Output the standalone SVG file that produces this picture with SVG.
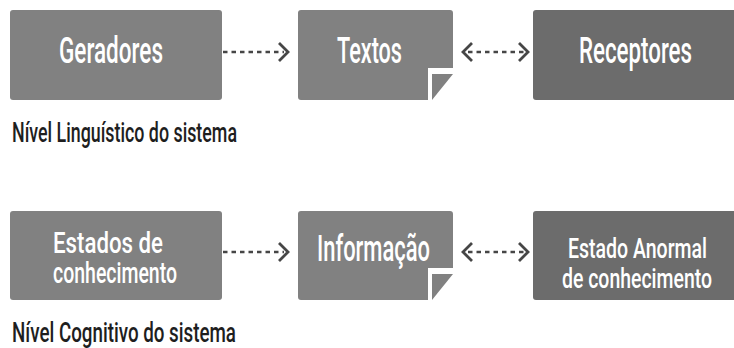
<svg xmlns="http://www.w3.org/2000/svg" width="734" height="348" viewBox="0 0 734 348">
<style>
.box{fill:#818181}
.box2{fill:#6c6c6c}
.fold{fill:#818181}
.lbl{font-family:Roboto,"Liberation Sans",sans-serif;font-weight:500;fill:#ffffff}
.cap{font-family:Roboto,"Liberation Sans",sans-serif;font-weight:500;fill:#1e1e1e;font-size:27px}
.dash{stroke:#464646;stroke-width:2.6;stroke-dasharray:4.5 4;fill:none}
.chev{stroke:#464646;stroke-width:2.8;fill:none;stroke-linejoin:miter;stroke-linecap:butt}
</style>
<rect width="734" height="348" fill="#ffffff"/>

<g id="geradores">
<rect class="box" x="10" y="10" width="212" height="90" rx="3"/>
<text class="lbl" x="59" y="63" font-size="37" textLength="104" lengthAdjust="spacingAndGlyphs">Geradores</text>
</g>
<g id="textos">
<path class="box" d="M301,10 H450 Q453,10 453,13 V68 H428 V100 H301 Q298,100 298,97 V13 Q298,10 301,10 Z"/>
<path class="fold" d="M432,74 H453 L432,100 Z"/>
<text class="lbl" x="337" y="63" font-size="37" textLength="65" lengthAdjust="spacingAndGlyphs">Textos</text>
</g>
<g id="receptores">
<path class="box2" d="M536,10 H734 V100 H536 Q533,100 533,97 V13 Q533,10 536,10 Z"/>
<text class="lbl" x="579" y="63" font-size="37" textLength="113" lengthAdjust="spacingAndGlyphs">Receptores</text>
</g>
<g id="nivel-linguistico">
<text class="cap" x="12" y="142" textLength="225" lengthAdjust="spacingAndGlyphs">Nível Linguístico do sistema</text>
</g>

<g id="estados">
<rect class="box" x="10" y="211" width="212" height="89" rx="3"/>
<text class="lbl" x="53" y="253" font-size="29" textLength="110" lengthAdjust="spacingAndGlyphs">Estados de</text>
<text class="lbl" x="53" y="283" font-size="29" textLength="124" lengthAdjust="spacingAndGlyphs">conhecimento</text>
</g>
<g id="informacao">
<path class="box" d="M301,211 H450 Q453,211 453,214 V268 H428 V300 H301 Q298,300 298,297 V214 Q298,211 301,211 Z"/>
<path class="fold" d="M432,274 H453 L432,300 Z"/>
<text class="lbl" x="317" y="261" font-size="37" textLength="113" lengthAdjust="spacingAndGlyphs">Informação</text>
</g>
<g id="estado-anormal">
<path class="box2" d="M536,211 H734 V300 H536 Q533,300 533,297 V214 Q533,211 536,211 Z"/>
<text class="lbl" x="568" y="258" font-size="27" textLength="139" lengthAdjust="spacingAndGlyphs">Estado Anormal</text>
<text class="lbl" x="562" y="288" font-size="27" textLength="150" lengthAdjust="spacingAndGlyphs">de conhecimento</text>
</g>
<g id="nivel-cognitivo">
<text class="cap" x="12" y="342" textLength="224" lengthAdjust="spacingAndGlyphs">Nível Cognitivo do sistema</text>
</g>

<g id="connectors">
<line class="dash" x1="223" y1="52" x2="284" y2="52"/>
<polyline class="chev" points="279,43 288,52 279,61"/>
<polyline class="chev" points="472,43 463,52 472,61"/>
<line class="dash" x1="468" y1="52" x2="524" y2="52"/>
<polyline class="chev" points="519,43 528,52 519,61"/>

<line class="dash" x1="223" y1="252" x2="284" y2="252"/>
<polyline class="chev" points="279,243 288,252 279,261"/>
<polyline class="chev" points="472,243 463,252 472,261"/>
<line class="dash" x1="468" y1="252" x2="524" y2="252"/>
<polyline class="chev" points="519,243 528,252 519,261"/>
</g>
</svg>
